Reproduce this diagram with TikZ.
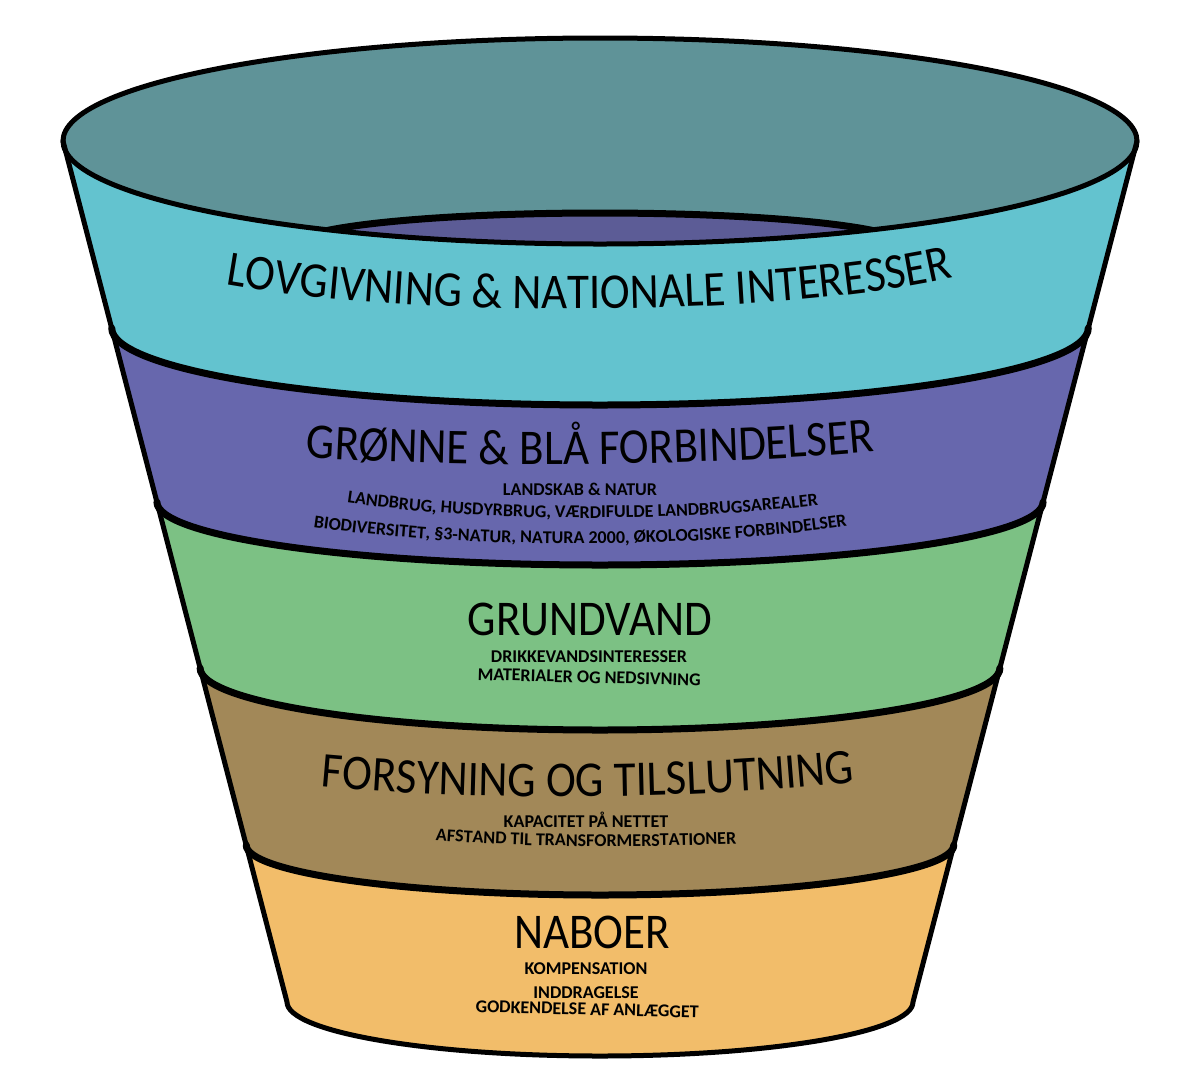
\documentclass[tikz,border=0pt]{standalone}
\usepackage{fontspec}
\setmainfont{Carlito}
\newfontfamily\ttlfam[FakeStretch=0.9]{Carlito}
\newcommand\mytitlefont{\ttlfam\fontsize{50}{60}\selectfont}
\newcommand\mysubfont{\bfseries\fontsize{18}{22}\selectfont}
\usetikzlibrary{decorations.text}
\definecolor{cTop}{RGB}{95,147,152}
\definecolor{cCyan}{RGB}{99,195,207}
\definecolor{cPurple}{RGB}{103,103,173}
\definecolor{cInner}{RGB}{92,92,150}
\definecolor{cGreen}{RGB}{124,193,132}
\definecolor{cBrown}{RGB}{162,136,88}
\definecolor{cOrange}{RGB}{242,189,106}
\begin{document}
\begin{tikzpicture}[x=1pt,y=1pt,
  outline/.style={line width=5pt, line join=round, line cap=round},
  bandline/.style={line width=7pt, line cap=round},
  ttl/.style={font=\mytitlefont, inner sep=0pt, text=black},
  subtxt/.style={font=\mysubfont, inner sep=0pt, text=black},
  topell/.style={x radius=537, y radius=103}]
\useasboundingbox (0,-1080) rectangle (1197,0);
\fill[white] (0,-1080) rectangle (1197,0);
% band fills (painted from bottom up)
\fill[cOrange] (1137,-141) arc[start angle=0,end angle=180,topell] -- (287,-1002) arc[start angle=180,end angle=360,x radius=313,y radius=54] -- cycle;
\fill[cBrown] (1137,-141) arc[start angle=0,end angle=180,topell] -- (246.2,-845) arc[start angle=180,end angle=360,x radius=353.8,y radius=50] -- cycle;
\fill[cGreen] (1137,-141) arc[start angle=0,end angle=180,topell] -- (200.1,-668) arc[start angle=180,end angle=360,x radius=399.9,y radius=62] -- cycle;
\fill[cPurple] (1137,-141) arc[start angle=0,end angle=180,topell] -- (156.9,-502) arc[start angle=180,end angle=360,x radius=443.1,y radius=63] -- cycle;
\fill[cCyan] (1137,-141) arc[start angle=0,end angle=180,topell] -- (111.7,-328) arc[start angle=180,end angle=360,x radius=488.3,y radius=77] -- cycle;
% opening
\fill[cTop] (600,-141) ellipse[topell];
\begin{scope}
  \clip (600,-141) ellipse[topell];
  \fill[cInner] (600,-245) ellipse[x radius=306, y radius=32];
  \draw[bandline] (600,-245) ellipse[x radius=306, y radius=32];
\end{scope}
% outlines
\draw[bandline] (111.7,-328) arc[start angle=180,end angle=360,x radius=488.3,y radius=77];
\draw[bandline] (156.9,-502) arc[start angle=180,end angle=360,x radius=443.1,y radius=63];
\draw[bandline] (200.1,-668) arc[start angle=180,end angle=360,x radius=399.9,y radius=62];
\draw[bandline] (246.2,-845) arc[start angle=180,end angle=360,x radius=353.8,y radius=50];
\draw[outline] (63,-141) -- (287,-1002) arc[start angle=180,end angle=360,x radius=313,y radius=54] -- (1137,-141);
\draw[outline] (600,-141) ellipse[topell];
% band 1
\path[decorate, decoration={text along path, text align=center,
  text={|\mytitlefont|LOVGIVNING {\&} NATIONALE INTERESSER}}]
  (200,-280) .. controls (393,-320) and (807,-320) .. (978,-271);
% band 2
\path[decorate, decoration={text along path, text align=center,
  text={|\mytitlefont|GRØNNE {\&} BLÅ FORBINDELSER}}]
  (280,-456) .. controls (440,-469) and (740,-467) .. (900,-449);
\node[subtxt, anchor=base] (landskab) at (580,-495) {LANDSKAB \& NATUR};
\path[decorate, decoration={text along path, text align=center,
  text={|\mysubfont|LANDBRUG, HUSDYRBRUG, VÆRDIFULDE LANDBRUGSAREALER}}]
  (330,-500) .. controls (475,-524) and (685,-523) .. (835,-503);
\path[decorate, decoration={text along path, text align=center,
  text={|\mysubfont|BIODIVERSITET, §3-NATUR, NATURA 2000, ØKOLOGISKE FORBINDELSER}}]
  (300,-525) .. controls (455,-550) and (705,-550) .. (860,-524);
% band 3
\node[ttl, anchor=base] (grundvand) at (590,-635) {GRUNDVAND};
\node[subtxt, anchor=base] (drikke) at (589,-662) {DRIKKEVANDSINTERESSER};
\node[subtxt, anchor=base, rotate=-1.5] (materialer) at (589,-683) {MATERIALER OG NEDSIVNING};
% band 4
\path[decorate, decoration={text along path, text align=center,
  text={|\mytitlefont|FORSYNING OG TILSLUTNING}}]
  (295,-784) .. controls (463,-802) and (707,-801) .. (880,-779);
\node[subtxt, anchor=base] (kapacitet) at (586,-827) {KAPACITET PÅ NETTET};
\path[decorate, decoration={text along path, text align=center,
  text={|\mysubfont|AFSTAND TIL TRANSFORMERSTATIONER}}]
  (420,-839) .. controls (525,-848) and (645,-848) .. (752,-843);
% band 5
\node[ttl, anchor=base] (naboer) at (592,-948) {NABOER};
\node[subtxt, anchor=base] (kompensation) at (586,-974) {KOMPENSATION};
\node[subtxt, anchor=base] (inddragelse) at (586,-998) {INDDRAGELSE};
\node[subtxt, anchor=base, rotate=-1.5] (godkendelse) at (587,-1015) {GODKENDELSE AF ANLÆGGET};
\end{tikzpicture}
\end{document}
